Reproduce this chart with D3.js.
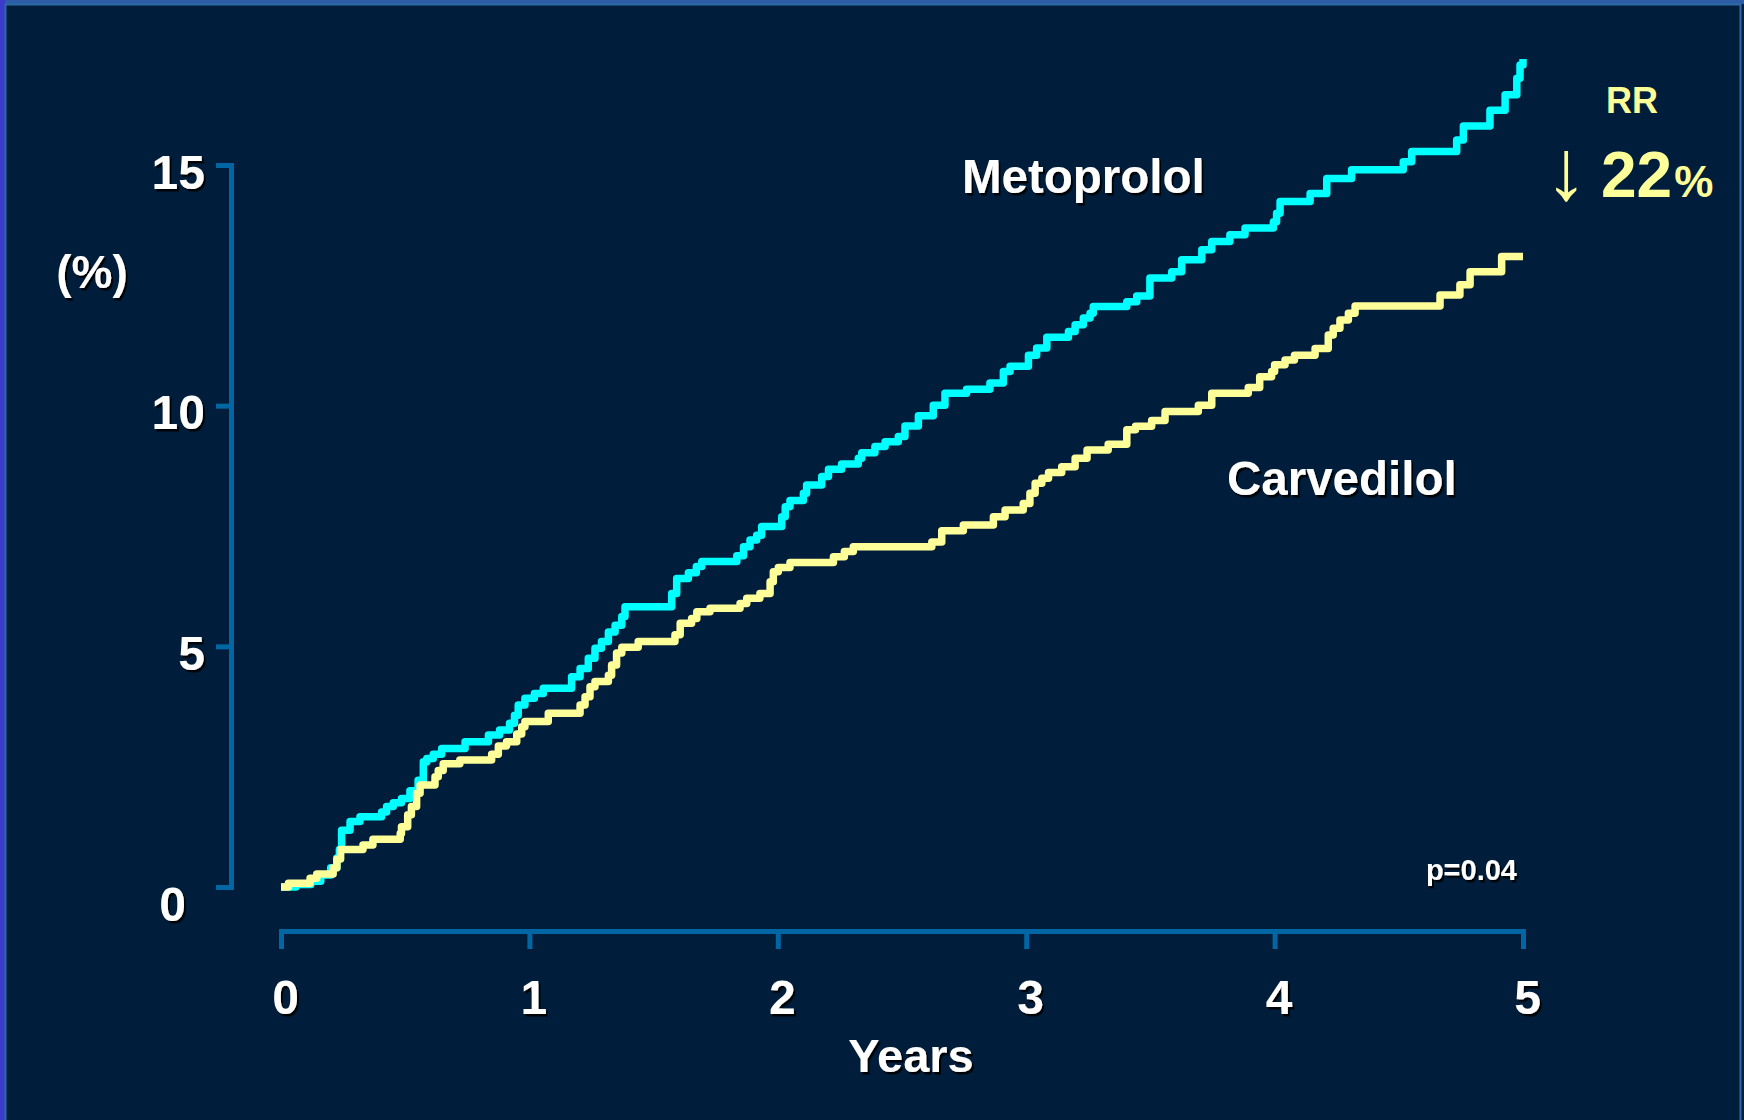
<!DOCTYPE html>
<html>
<head>
<meta charset="utf-8">
<script src="https://cdn.jsdelivr.net/npm/d3@7"></script>
<style>
  html, body { margin: 0; padding: 0; background: #001e3b; }
  svg { display: block; }
  text { font-family: 'Liberation Sans', Arial, sans-serif; }
</style>
</head>
<body>
<svg id="mainsvg" width="1744" height="1120"></svg>
<script>
// tick labels
const xTicks = [0, 1, 2, 3, 4, 5];
const yTicks = [0, 5, 10, 15];

// cumulative events (%) by year, step after each point
const metoprolol = [
  [0, 0], [0.06, 0.05], [0.12, 0.12], [0.16, 0.25], [0.2, 0.4], [0.225, 0.6], [0.235, 0.78],
  [0.244, 1.18], [0.278, 1.36], [0.318, 1.46], [0.405, 1.56], [0.425, 1.67], [0.452, 1.75],
  [0.485, 1.84], [0.519, 2.0], [0.552, 2.22], [0.573, 2.6], [0.587, 2.67], [0.613, 2.76],
  [0.647, 2.88], [0.741, 3.02], [0.835, 3.16], [0.88, 3.26], [0.92, 3.4], [0.94, 3.57],
  [0.955, 3.78], [0.982, 3.92], [1.02, 4.02], [1.056, 4.13], [1.17, 4.37], [1.204, 4.54],
  [1.237, 4.75], [1.264, 4.96], [1.29, 5.1], [1.318, 5.3], [1.345, 5.44], [1.372, 5.62],
  [1.385, 5.82], [1.573, 6.1], [1.593, 6.41], [1.64, 6.53], [1.672, 6.66], [1.694, 6.76],
  [1.835, 6.88], [1.862, 7.07], [1.888, 7.21], [1.915, 7.31], [1.935, 7.49], [2.016, 7.69],
  [2.03, 7.9], [2.049, 8.03], [2.103, 8.18], [2.116, 8.35], [2.177, 8.53], [2.204, 8.68],
  [2.257, 8.79], [2.324, 8.91], [2.338, 9.02], [2.391, 9.15], [2.432, 9.25], [2.485, 9.36],
  [2.512, 9.58], [2.566, 9.79], [2.626, 10.01], [2.673, 10.26], [2.76, 10.34], [2.854, 10.47],
  [2.908, 10.71], [2.935, 10.82], [3.009, 11.05], [3.042, 11.2], [3.083, 11.42], [3.17, 11.54],
  [3.197, 11.68], [3.23, 11.82], [3.257, 11.92], [3.27, 12.06], [3.405, 12.16], [3.445, 12.28],
  [3.498, 12.65], [3.586, 12.78], [3.626, 13.03], [3.707, 13.24], [3.747, 13.41], [3.82, 13.55],
  [3.881, 13.69], [3.995, 13.82], [4.008, 14.0], [4.022, 14.24], [4.143, 14.41], [4.21, 14.72],
  [4.31, 14.9], [4.518, 15.07], [4.552, 15.28], [4.733, 15.52], [4.76, 15.81], [4.867, 16.14],
  [4.928, 16.46], [4.975, 16.8], [4.988, 17.08], [5.0, 17.2]
];
const carvedilol = [
  [0, 0], [0.03, 0.08], [0.117, 0.18], [0.144, 0.27], [0.21, 0.4], [0.225, 0.58], [0.24, 0.78],
  [0.33, 0.87], [0.37, 0.99], [0.48, 1.11], [0.485, 1.25], [0.51, 1.5], [0.525, 1.67],
  [0.546, 1.95], [0.56, 2.12], [0.62, 2.29], [0.633, 2.42], [0.653, 2.56], [0.72, 2.64],
  [0.848, 2.76], [0.875, 2.93], [0.908, 3.02], [0.949, 3.18], [0.969, 3.33], [0.982, 3.44],
  [1.076, 3.61], [1.204, 3.78], [1.224, 3.95], [1.244, 4.16], [1.264, 4.27], [1.318, 4.4],
  [1.331, 4.61], [1.351, 4.86], [1.372, 4.98], [1.438, 5.1], [1.586, 5.24], [1.607, 5.48],
  [1.653, 5.58], [1.674, 5.72], [1.727, 5.79], [1.848, 5.89], [1.875, 6.0], [1.928, 6.1],
  [1.969, 6.34], [1.982, 6.55], [2.002, 6.64], [2.049, 6.74], [2.224, 6.86], [2.268, 6.97],
  [2.304, 7.07], [2.62, 7.17], [2.66, 7.4], [2.747, 7.52], [2.868, 7.69], [2.915, 7.83],
  [2.988, 7.97], [3.015, 8.18], [3.036, 8.39], [3.063, 8.49], [3.09, 8.61], [3.143, 8.73],
  [3.197, 8.91], [3.245, 9.08], [3.33, 9.2], [3.405, 9.5], [3.44, 9.57], [3.505, 9.69],
  [3.559, 9.88], [3.693, 10.01], [3.747, 10.26], [3.894, 10.38], [3.94, 10.6], [3.988, 10.71],
  [4.0, 10.85], [4.042, 10.95], [4.08, 11.05], [4.163, 11.19], [4.216, 11.47], [4.236, 11.61],
  [4.263, 11.78], [4.297, 11.92], [4.324, 12.07], [4.666, 12.3], [4.746, 12.51], [4.787, 12.78],
  [4.914, 13.1], [5.0, 13.1]
];

const svg = d3.select('#mainsvg');
const width = +svg.attr('width');
const height = +svg.attr('height');
const axisColor = '#0066a4';

// black drop shadow for the white slide text
const defs = svg.append('defs');
defs.append('filter').attr('id', 'shadow')
  .attr('x', '-10%').attr('y', '-10%').attr('width', '130%').attr('height', '140%')
  .append('feDropShadow')
  .attr('dx', 2).attr('dy', 2.5)
  .attr('stdDeviation', 0.4)
  .attr('flood-color', '#000')
  .attr('flood-opacity', 0.9);

// slide background and frame
svg.append('rect').attr('width', width).attr('height', height).attr('fill', '#001e3b');
svg.append('rect').attr('x', 0).attr('y', 0).attr('width', width).attr('height', 4).attr('fill', '#2d5ca6');
svg.append('rect').attr('x', 0).attr('y', 0).attr('width', 5).attr('height', height).attr('fill', '#3a3acb');
svg.append('rect').attr('x', 5.5).attr('y', 4.5).attr('width', width - 9).attr('height', height + 10)
  .attr('fill', 'none').attr('stroke', '#2b6aa6').attr('stroke-width', 2);

const xScale = d3.scaleLinear().domain([0, 5]).range([281, 1523]);
const yScale = d3.scaleLinear().domain([0, 15]).range([887, 165]);

// y axis
const yAxis = d3.axisLeft(yScale)
  .tickValues(yTicks)
  .tickSize(15)
  .tickPadding(11)
  .tickFormat(d3.format('d'));
const yg = svg.append('g')
  .attr('transform', `translate(${231}, 0)`)
  .call(yAxis);

// x axis
const xAxis = d3.axisBottom(xScale)
  .tickValues(xTicks)
  .tickSize(18)
  .tickPadding(31)
  .tickFormat(d3.format('d'));
const xg = svg.append('g')
  .attr('transform', `translate(0, ${931})`)
  .call(xAxis);

[yg, xg].forEach(g => {
  g.select('.domain').attr('stroke', axisColor).attr('stroke-width', 5).attr('fill', 'none');
  g.selectAll('.tick line').attr('stroke', axisColor).attr('stroke-width', 5);
  g.selectAll('.tick text')
    .attr('fill', '#fff')
    .attr('font-size', 48)
    .attr('font-weight', 'bold')
    .attr('font-family', "'Liberation Sans', Arial, sans-serif")
    .attr('filter', 'url(#shadow)');
});
yg.selectAll('.tick text').attr('dy', '0.48em');
yg.selectAll('.tick').filter(d => d === 0).select('text')
  .attr('transform', 'translate(-19, 10)');
xg.selectAll('.tick text').attr('dx', 4);

// curves
const line = d3.line()
  .x(d => xScale(d[0]))
  .y(d => yScale(d[1]))
  .curve(d3.curveStepAfter);

svg.append('path').datum(metoprolol)
  .attr('d', line)
  .attr('fill', 'none')
  .attr('stroke', '#00ffff')
  .attr('stroke-width', 7.5)
  .attr('stroke-linejoin', 'round');

svg.append('path').datum(carvedilol)
  .attr('d', line)
  .attr('fill', 'none')
  .attr('stroke', '#ffff99')
  .attr('stroke-width', 7.5)
  .attr('stroke-linejoin', 'round');

// labels
const white = (txt, x, y, size, anchor) => svg.append('text').text(txt)
  .attr('x', x).attr('y', y)
  .attr('font-size', size)
  .attr('font-weight', 'bold')
  .attr('fill', '#fff')
  .attr('text-anchor', anchor)
  .attr('filter', 'url(#shadow)');

white('(%)', 92, 288, 46, 'middle');
white('Years', 911, 1072, 47, 'middle');
white('Metoprolol', 962, 193, 47.5, 'start');
white('Carvedilol', 1227, 495, 47.5, 'start');
white('p=0.04', 1517, 880, 29, 'end');

svg.append('text').text('RR')
  .attr('x', 1632).attr('y', 113)
  .attr('font-size', 36).attr('font-weight', 'bold')
  .attr('fill', '#ffff99').attr('text-anchor', 'middle');

svg.append('text').text('↓')
  .attr('x', 1566).attr('y', 199)
  .attr('font-size', 86)
  .attr('fill', '#ffff99').attr('text-anchor', 'middle');

const rr = svg.append('text')
  .attr('x', 1601).attr('y', 197)
  .attr('font-weight', 'bold')
  .attr('fill', '#ffff99');
rr.append('tspan').text('22').attr('font-size', 64);
rr.append('tspan').text('%').attr('font-size', 44).attr('dx', 2);
</script>
</body>
</html>
